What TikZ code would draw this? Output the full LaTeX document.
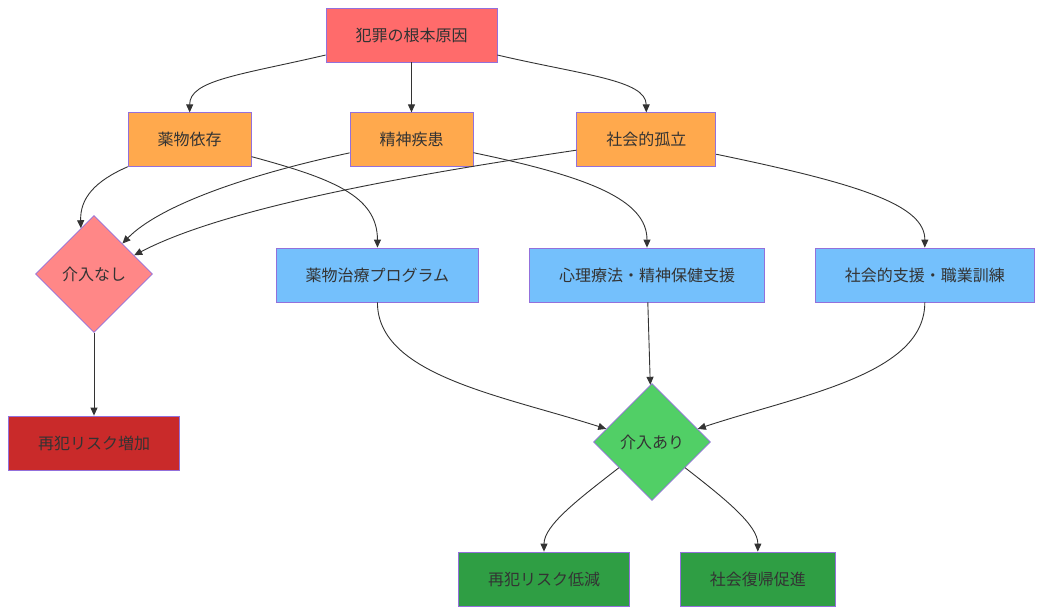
\documentclass[tikz,border=0pt]{standalone}
\usepackage{fontspec}
\setmainfont{Noto Sans CJK JP}
\usepackage{xcolor}
\usepackage{tikz}
\usetikzlibrary{shapes.geometric, arrows.meta, positioning}
\definecolor{edgeclr}{HTML}{333333}
\definecolor{txtclr}{HTML}{333333}
\definecolor{strokeclr}{HTML}{9370DB}
\tikzset{
  nodebase/.style={
    draw=strokeclr, line width=0.8pt, text=txtclr,
    font=\fontsize{16}{19}\selectfont
  },
  boxbase/.style={
    nodebase, rectangle, inner xsep=29.5pt, inner ysep=0pt, minimum height=54pt
  },
  rootbox/.style={boxbase, fill={rgb,255:red,255;green,107;blue,107}},
  causebox/.style={boxbase, fill={rgb,255:red,255;green,169;blue,77}},
  supbox/.style={boxbase, fill={rgb,255:red,116;green,192;blue,252}},
  badbox/.style={boxbase, fill={rgb,255:red,201;green,42;blue,42}},
  goodbox/.style={boxbase, fill={rgb,255:red,47;green,158;blue,68}},
  nobox/.style={
    nodebase, diamond, inner sep=0pt, minimum width=117pt, minimum height=117pt,
    fill={rgb,255:red,255;green,135;blue,135}
  },
  yesbox/.style={
    nodebase, diamond, inner sep=0pt, minimum width=117pt, minimum height=117pt,
    fill={rgb,255:red,81;green,207;blue,102}
  },
  arr/.style={-{Triangle[length=8pt,width=7pt]}, draw=edgeclr, line width=0.9pt}
}

\begin{document}
\begin{tikzpicture}[x=1pt, y=-1pt]
\useasboundingbox (0,0) rectangle (1044,614);

% Row 1 — root cause
\node[rootbox] (root) at (411.5,35) {犯罪の根本原因};

% Row 2 — causes
\node[causebox, below=50pt of root]    (mental) {精神疾患};
\node[causebox, left=98pt of mental]   (drug)   {薬物依存};
\node[causebox, right=103pt of mental] (iso)    {社会的孤立};

% Row 3 — no intervention / support programmes
\node[nobox]  (none) at (94,274) {介入なし};
\node[supbox] (psych) at (647,275) {心理療法・精神保健支援};
\node[supbox, left=50pt of psych]  (drugprog) {薬物治療プログラム};
\node[supbox, right=50pt of psych] (social)   {社会的支援・職業訓練};

% Row 4 — outcome without / with intervention
\node[badbox] (inc) at (94,443) {再犯リスク増加};
\node[yesbox] (yes) at (652,442) {介入あり};

% Row 5 — outcomes
\node[goodbox] (low) at (544,579) {再犯リスク低減};
\node[goodbox, right=50pt of low] (reint) {社会復帰促進};

% Arrows — root to causes
\draw[arr] (root) .. controls (240,75) and (189.5,80) .. (drug.north);
\draw[arr] (root) -- (mental);
\draw[arr] (root) .. controls (583,75) and (646,80) .. (iso.north);

% Arrows — causes to no intervention
\draw[arr] (drug) .. controls (95,181) and (80,198) .. (none.106);
\draw[arr] (mental) .. controls (250,174) and (160,205) .. (none.47);
\draw[arr] (iso) .. controls (430,172) and (230,205) .. (none.25);

% Arrows — causes to support
\draw[arr] (drug) .. controls (330,178) and (377.5,195) .. (drugprog.north);
\draw[arr] (mental) .. controls (590,177) and (647,200) .. (psych.north);
\draw[arr] (iso) .. controls (860,184) and (925,205) .. (social.north);

% Arrows — to outcomes
\draw[arr] (none) -- (inc);
\draw[arr] (drugprog.south) .. controls (377.5,375) and (500,395) .. (yes.164);
\draw[arr] (psych) -- (yes);
\draw[arr] (social.south) .. controls (925,375) and (800,395) .. (yes.16);
\draw[arr] (yes) .. controls (580,498) and (544,525) .. (low.north);
\draw[arr] (yes) .. controls (724,498) and (758,525) .. (reint.north);

\end{tikzpicture}
\end{document}
